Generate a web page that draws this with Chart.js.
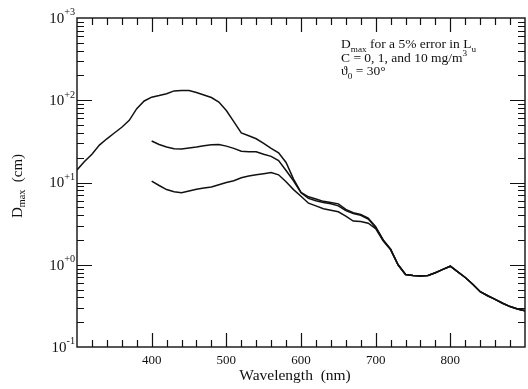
<!DOCTYPE html>
<html>
<head>
<meta charset="utf-8">
<script src="https://cdn.jsdelivr.net/npm/chart.js@4.4.1/dist/chart.umd.min.js"></script>
<style>
  html, body { margin: 0; padding: 0; background: #fff; }
  #wrap { width: 528px; height: 389px; }
</style>
</head>
<body>
<div id="wrap"><canvas id="dmaxChart" width="528" height="389"></canvas></div>
<script>
// Wavelength grid (nm) and Dmax (cm)
const wavelengths = [300, 310, 320, 330, 340, 350, 360, 370, 380, 390,
    400, 410, 420, 430, 440, 450, 460, 470, 480, 490,
    500, 510, 520, 530, 540, 550, 560, 570, 580, 590,
    600, 610, 620, 630, 640, 650, 660, 670, 680, 690,
    700, 710, 720, 730, 740, 750, 760, 770, 780, 790,
    800, 810, 820, 830, 840, 850, 860, 870, 880, 890, 900];

// C = 0 mg/m3
const dmaxC0 = [14.2, 18, 22, 28.5, 34, 40, 47, 57, 79, 98,
    109, 114, 120, 130, 131, 131, 124, 116, 108, 95,
    75, 55, 40, 37, 34, 30, 26, 23, 17.5, 11,
    7.6, 6.7, 6.3, 5.9, 5.7, 5.5, 4.7, 4.3, 4.1, 3.7,
    2.9, 2.0, 1.55, 1.0, 0.76, 0.74, 0.73, 0.74, 0.8, 0.88,
    0.96, 0.82, 0.7, 0.58, 0.47, 0.42, 0.38, 0.34, 0.31, 0.29, 0.275];

// C = 1 mg/m3
const dmaxC1 = [null, null, null, null, null, null, null, null, null, null,
    32, 29, 27, 25.7, 25.5, 26.3, 27, 28, 28.8, 29,
    27.7, 26, 24, 23.7, 23.6, 22, 20.8, 18.5, 14, 10.5,
    7.5, 6.4, 6.0, 5.7, 5.5, 5.2, 4.55, 4.2, 4.0, 3.6,
    2.85, 2.0, 1.55, 1.0, 0.76, 0.74, 0.73, 0.74, 0.8, 0.88,
    0.96, 0.82, 0.7, 0.58, 0.47, 0.42, 0.38, 0.34, 0.31, 0.29, 0.275];

// C = 10 mg/m3
const dmaxC10 = [null, null, null, null, null, null, null, null, null, null,
    10.4, 9.2, 8.2, 7.7, 7.5, 7.9, 8.3, 8.6, 8.8, 9.4,
    10.0, 10.5, 11.4, 12.0, 12.4, 12.8, 13.2, 12.4, 10.2, 8.2,
    6.8, 5.6, 5.2, 4.8, 4.6, 4.4, 3.9, 3.4, 3.35, 3.2,
    2.75, 1.95, 1.52, 1.0, 0.76, 0.74, 0.73, 0.74, 0.8, 0.88,
    0.96, 0.82, 0.7, 0.58, 0.47, 0.42, 0.38, 0.34, 0.31, 0.29, 0.275];

const xTickLabels = [400, 500, 600, 700, 800];
const yDecades = [3, 2, 1, 0, -1];

const SERIF = '"Liberation Serif", "DejaVu Serif", serif';

function toPoints(vals) {
    return wavelengths.map((w, i) => ({ x: w, y: vals[i] }));
}

function curve(vals) {
    return {
        data: toPoints(vals),
        borderColor: '#111',
        borderWidth: 1.5,
        pointRadius: 0,
        fill: false,
        tension: 0,
        spanGaps: false
    };
}

// draw text made of pieces; piece.s = 'sub' | 'sup'
function richText(ctx, x, y, pieces, size, align) {
    const w = pieces.map(p => {
        ctx.font = (p.s ? size * 0.68 : size) + 'px ' + SERIF;
        return ctx.measureText(p.t).width;
    });
    const total = w.reduce((a, b) => a + b, 0);
    let cx = align === 'right' ? x - total : align === 'center' ? x - total / 2 : x;
    pieces.forEach((p, i) => {
        ctx.font = (p.s ? size * 0.68 : size) + 'px ' + SERIF;
        let dy = 0;
        if (p.s === 'sub') dy = size * 0.3;
        if (p.s === 'sup') dy = -size * 0.42;
        ctx.fillText(p.t, cx, y + dy);
        cx += w[i];
    });
}

const framePlugin = {
    id: 'frame',
    afterDraw(chart) {
        const ctx = chart.ctx;
        const a = chart.chartArea;
        const xs = chart.scales.x;
        const ys = chart.scales.y;
        ctx.save();
        ctx.strokeStyle = '#111';
        ctx.fillStyle = '#111';
        ctx.lineWidth = 1.4;
        ctx.strokeRect(a.left, a.top, a.right - a.left, a.bottom - a.top);

        // x ticks, inward on top and bottom
        ctx.lineWidth = 1.2;
        for (let v = 320; v < 900; v += 20) {
            const px = Math.round(xs.getPixelForValue(v)) + 0.5;
            const len = v % 100 === 0 ? 14 : 7;
            ctx.beginPath();
            ctx.moveTo(px, a.bottom); ctx.lineTo(px, a.bottom - len);
            ctx.moveTo(px, a.top); ctx.lineTo(px, a.top + len);
            ctx.stroke();
        }
        // y ticks, inward on left and right
        for (let d = -1; d < 3; d++) {
            for (let m = 1; m <= 9; m++) {
                if (d === -1 && m === 1) continue;
                const v = m * Math.pow(10, d);
                const py = Math.round(ys.getPixelForValue(v)) + 0.5;
                const len = m === 1 ? 15 : 7;
                ctx.beginPath();
                ctx.moveTo(a.left, py); ctx.lineTo(a.left + len, py);
                ctx.moveTo(a.right, py); ctx.lineTo(a.right - len, py);
                ctx.stroke();
            }
        }

        // x tick labels
        ctx.textBaseline = 'middle';
        ctx.textAlign = 'left';
        xTickLabels.forEach(v => {
            richText(ctx, xs.getPixelForValue(v), a.bottom + 14, [{ t: String(v) }], 13, 'center');
        });
        // y tick labels
        yDecades.forEach(d => {
            const py = ys.getPixelForValue(Math.pow(10, d));
            const exp = d < 0 ? '-' + (-d) : '+' + d;
            richText(ctx, a.left - 2, py + 1, [{ t: '10' }, { t: exp, s: 'sup' }], 15, 'right');
        });

        // axis titles
        richText(ctx, (a.left + a.right) / 2 - 6, a.bottom + 29, [{ t: 'Wavelength  (nm)' }], 15.5, 'center');
        ctx.save();
        ctx.translate(18, 186);
        ctx.rotate(-Math.PI / 2);
        richText(ctx, 0, 0, [{ t: 'D' }, { t: 'max', s: 'sub' }, { t: '  (cm)' }], 15, 'center');
        ctx.restore();

        // annotation
        ctx.textBaseline = 'alphabetic';
        richText(ctx, 341, 48, [{ t: 'D' }, { t: 'max', s: 'sub' }, { t: ' for a 5% error in L' }, { t: 'u', s: 'sub' }], 13.5, 'left');
        richText(ctx, 341, 62, [{ t: 'C = 0, 1, and 10 mg/m' }, { t: '3', s: 'sup' }], 13.5, 'left');
        richText(ctx, 341, 75, [{ t: '\u03D1' }, { t: '0', s: 'sub' }, { t: ' = 30\u00B0' }], 13.5, 'left');
        ctx.restore();
    }
};

new Chart(document.getElementById('dmaxChart').getContext('2d'), {
    type: 'line',
    data: {
        datasets: [curve(dmaxC0), curve(dmaxC1), curve(dmaxC10)]
    },
    options: {
        responsive: false,
        animation: false,
        layout: { padding: { left: 77, right: 3, top: 18, bottom: 42 } },
        scales: {
            x: { type: 'linear', min: 300, max: 900, display: false },
            y: { type: 'logarithmic', min: 0.1, max: 1000, display: false }
        },
        plugins: { legend: { display: false }, tooltip: { enabled: false } }
    },
    plugins: [framePlugin]
});
</script>
</body>
</html>
